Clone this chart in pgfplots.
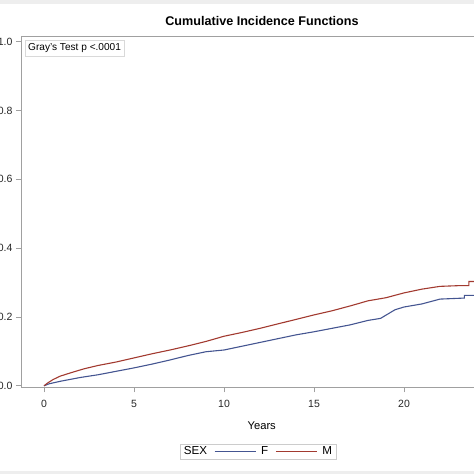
\documentclass[border=0pt]{standalone}
\usepackage{fontspec}
\setmainfont{Liberation Sans}
\usepackage{pgfplots}
\pgfplotsset{compat=1.18}
\definecolor{sasblue}{RGB}{68,85,145}
\definecolor{sasred}{RGB}{162,58,48}
\definecolor{axgray}{RGB}{160,160,160}
\definecolor{band}{RGB}{238,238,238}

\begin{document}
\begin{tikzpicture}[x=1bp,y=1bp]
  \useasboundingbox (0,0) rectangle (474,474);
  \clip (0,0) rectangle (474,474);
  \fill[band] (0,470) rectangle (474,474);
  \fill[band] (0,0) rectangle (474,2.5);
  \begin{axis}[
    at={(21bp,86.5bp)}, anchor=south west,
    scale only axis,
    width=482bp, height=351bp,
    xmin=-1.278, xmax=25.5,
    ymin=-0.005, ymax=1.0154,
    xtick={0,5,10,15,20},
    ytick={0,0.2,0.4,0.6,0.8,1.0},
    y tick label style={/pgf/number format/fixed, /pgf/number format/fixed zerofill,
      /pgf/number format/precision=1},
    /pgf/number format/assume math mode=true,
    tick label style={font=\fontsize{10.5bp}{12bp}\selectfont, text=black!85},
    tick align=outside, major tick length=5bp,
    xtick pos=bottom, ytick pos=left,
    axis line style={axgray, line width=0.8bp},
    tick style={axgray, line width=0.8bp},
    x tick label style={yshift=-4bp},
    title={\bfseries Cumulative Incidence Functions},
    title style={font=\fontsize{12.6bp}{15bp}\selectfont, at={(0.5,1)}, anchor=center, yshift=10bp},
    xlabel={Years},
    xlabel style={font=\fontsize{11.2bp}{13bp}\selectfont, at={(axis description cs:0.4994,-0.1095)}, anchor=center},
    legend columns=-1,
    legend style={at={(0.4917,-0.1826)}, anchor=center, draw=black!20,
      font=\fontsize{11.6bp}{13bp}\selectfont, inner xsep=2bp, inner ysep=1bp,
      /tikz/every even column/.append style={column sep=5bp}},
    legend image code/.code={\draw[#1] (0bp,0bp) -- (41bp,0bp);},
  ]
    \addlegendimage{empty legend}
    \addlegendentry{SEX\hspace{8bp}}
    \addplot[sasblue, line width=1.1bp] coordinates {
      (0,0) (0.3,0.006) (0.9,0.013) (2,0.024) (3,0.032) (4,0.042) (5,0.052)
      (6,0.063) (7,0.075) (8,0.088) (9,0.099) (10,0.104) (11,0.115) (12,0.126)
      (13,0.137) (14,0.148) (15,0.157) (16,0.167) (17,0.177) (18,0.190)
      (18.7,0.196) (19.5,0.221) (20,0.229) (21,0.238) (22,0.252) (23.35,0.255)
      (23.35,0.263) (24.5,0.263)
    };
    \addlegendentry{\hspace{3bp}F}
    \addplot[sasred, line width=1.1bp] coordinates {
      (0,0) (0.2,0.008) (0.5,0.018) (0.9,0.028) (1.5,0.038) (2.2,0.049)
      (3,0.059) (4,0.069) (5,0.081) (6,0.093) (7,0.104) (8,0.116) (9,0.129)
      (10,0.144) (11,0.155) (12,0.167) (13,0.180) (14,0.193) (15,0.206)
      (16,0.218) (17,0.232) (18,0.247) (19,0.256) (20,0.270) (21,0.281)
      (22,0.289) (23,0.291) (23.6,0.291) (23.6,0.303) (24.5,0.303)
    };
    \addlegendentry{\hspace{3bp}M}
    \node[draw=black!15, anchor=north west, font=\fontsize{10.1bp}{12bp}\selectfont,
      inner xsep=3bp, inner ysep=3.5bp]
      at (rel axis cs:0.0083,0.991) {Gray's Test p <.0001};
  \end{axis}
\end{tikzpicture}
\end{document}
